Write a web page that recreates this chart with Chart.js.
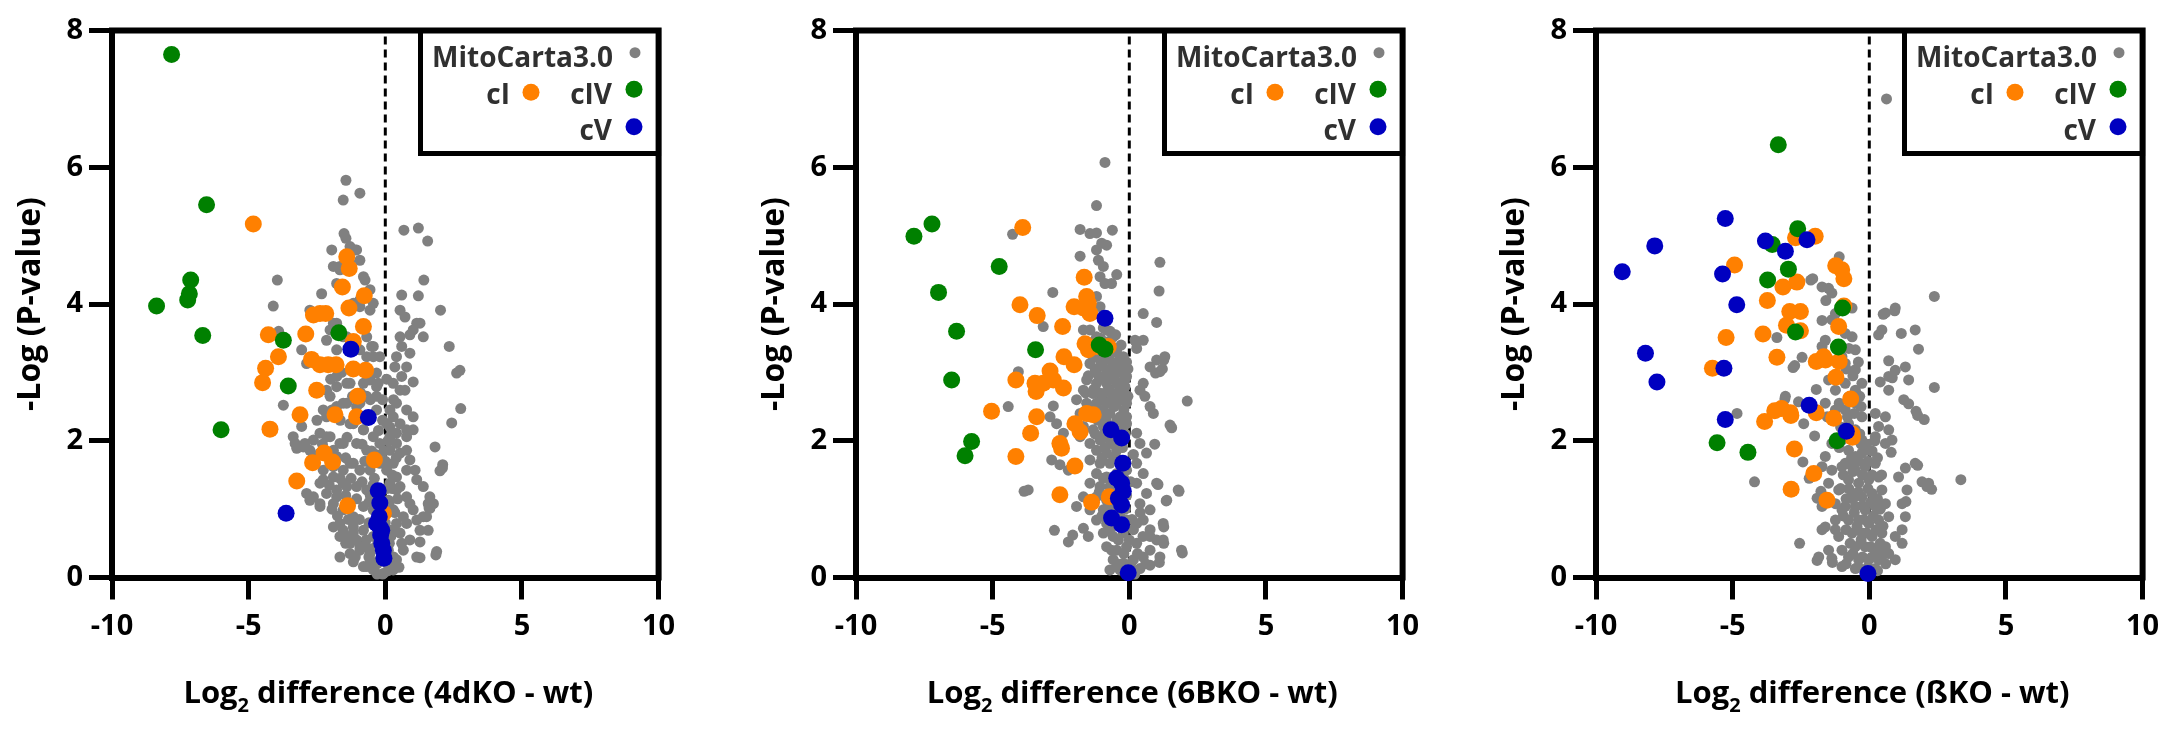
<!DOCTYPE html>
<html>
<head>
<meta charset="utf-8">
<script src="https://cdn.jsdelivr.net/npm/chart.js@4.4.1/dist/chart.umd.min.js"></script>
<style>
  html, body { margin: 0; padding: 0; background: #fff; }
  body { width: 2162px; height: 737px; position: relative; overflow: hidden; }
  canvas { position: absolute; top: 0; }
</style>
</head>
<body>
<canvas id="c1" width="700" height="737" style="left:0px"></canvas>
<canvas id="c2" width="700" height="737" style="left:740px"></canvas>
<canvas id="c3" width="682" height="737" style="left:1480px"></canvas>
<script>
// ---------------- axes ----------------
const X_TICKS = [-10, -5, 0, 5, 10];
const Y_TICKS = [0, 2, 4, 6, 8];
const ZERO_LINE = [[0, 0], [0, 8]];

// ---------------- panel 1 : 4dKO ----------------
const p1Gray = [
  [-1.44,5.81],[-0.93,5.62],[-1.54,5.52],[0.68,5.08],[1.21,5.11],[1.55,4.92],[-1.51,5.03],[-1.44,4.96],[-1.96,4.79],[-1.11,4.79],
  [-0.93,4.64],[-0.74,4.35],[1.41,4.35],[0.60,4.13],[1.21,4.12],[-0.56,3.91],[0.54,3.91],[0.72,3.81],[2.02,3.91],[1.15,3.72],
  [1.02,3.62],[0.90,3.55],[2.34,3.38],[-0.50,3.38],[-0.44,3.23],[0.60,3.38],[0.41,3.23],[0.35,3.08],[2.61,2.99],[2.73,3.03],
  [0.60,2.94],[1.02,2.86],[0.72,2.74],[-0.32,2.99],[-0.26,2.84],[-0.32,2.65],[0.41,2.55],[0.78,2.45],[1.02,2.35],[0.54,2.25],
  [2.76,2.47],[2.43,2.26],[0.17,2.20],[0.41,2.11],[0.78,2.16],[1.82,1.91],[2.10,1.65],[2.00,1.56],[0.41,1.96],[0.54,1.82],
  [0.78,1.86],[0.90,1.72],[1.09,1.57],[0.78,1.57],[0.29,1.67],[0.41,1.47],[0.54,1.33],[1.15,1.43],[1.39,1.33],[1.63,1.18],
  [1.76,1.08],[1.63,1.01],[1.51,0.89],[1.57,0.69],[1.27,0.52],[1.88,0.38],
  [-1.90,4.55],[-1.66,4.50],[-1.29,4.60],[-0.80,4.40],[-0.56,4.21],[-0.93,4.06],[-0.44,4.01],[-1.90,3.72],[-1.54,3.52],[-1.78,3.33],
  [-0.68,3.52],[-0.44,3.38],[-0.20,3.23],[-1.78,2.94],[-1.29,2.84],[-0.80,2.84],[-0.56,2.89],[-0.32,2.79],[-2.02,2.65],[-1.54,2.55],
  [-0.93,2.55],[-0.68,2.65],[-0.32,2.45],[-1.78,2.35],[-1.29,2.25],[-0.80,2.16],[-0.44,2.06],[-0.20,1.96],[-2.02,2.06],[-1.54,1.96],
  [-1.05,1.96],[-0.68,1.86],[-1.78,1.77],[-1.29,1.67],[-0.93,1.57],[-0.56,1.57],[-0.20,1.67],[-1.90,1.47],[-1.54,1.38],[-1.05,1.33],
  [-0.68,1.28],[-0.20,1.23],[-1.78,1.18],[-1.29,1.08],[-0.80,1.04],[-0.44,0.99],[-0.20,0.89],[-1.66,0.79],[-1.17,0.74],[-0.80,0.69],
  [-0.44,0.60],[-0.07,0.50],[-1.29,0.60],[-0.93,0.45],[-0.56,0.35],[-0.20,0.26],[-1.29,0.35],[-0.80,0.16],[-0.44,0.11],[-0.07,0.06],
  [0.29,0.11],
  [0.17,1.86],[0.05,1.57],[0.17,1.38],[0.11,1.13],[0.29,0.99],[0.41,0.79],[0.17,0.69],[0.66,0.89],[0.90,1.08],[0.41,1.28],
  [0.78,1.18],[1.02,0.99],[1.15,0.84],[0.78,0.79],[0.54,0.65],[0.90,0.55],[0.66,0.40],[0.41,0.26],[1.15,0.30],[0.23,0.16],
  [0.11,0.40],[0.05,0.21],[1.57,1.08],[1.39,0.89],[1.27,0.69],[0.29,2.35],[0.05,2.25],[0.17,2.06],[0.78,2.06],[1.02,2.16],
  [0.54,2.74],[0.17,2.45],[0.29,2.84],[0.78,3.08],[0.90,3.28],[0.54,3.52],[1.27,3.72],[1.39,3.52],
  [-3.95,4.35],[-4.10,3.97],[-2.33,4.15],[-2.76,3.91],[-3.06,3.33],[-2.15,3.47],[-3.73,2.52],[-3.06,2.21],[-3.30,1.96],[-2.94,1.96],
  [-2.63,2.01],[-2.39,2.11],[-2.15,2.06],[-3.24,1.89],[-2.76,1.86],[-2.39,1.82],[-1.90,1.86],[-1.66,1.96],[-2.27,1.57],[-1.90,1.62],
  [-1.54,1.57],[-1.17,1.67],[-2.27,1.43],[-2.15,1.23],[-1.78,1.28],[-1.41,1.33],[-2.76,1.13],[-2.39,1.08],[-2.88,1.23],[-1.90,1.08],
  [-1.54,0.99],[-1.17,0.89],[-1.90,0.74],[-1.54,0.69],[-1.17,0.65],[-1.66,0.60],[-1.29,0.50],[-0.93,0.40],[-2.15,2.74],[-1.78,2.79],
  [-1.41,2.84],[-2.88,3.13],[-2.39,3.08],[-2.27,2.45],[-2.15,2.35],[-1.41,2.55],[-1.78,2.50],[-1.17,2.25],[-0.80,2.16],[-2.02,3.62],
  [-1.78,3.72],[-0.93,3.33],[-0.68,3.23],[-1.41,3.52],[-1.17,4.01],[-0.93,3.96],[-1.78,4.30],[-1.54,4.25],[-1.66,4.55],[-1.05,4.79],
  [-1.29,4.84],[-3.00,1.91],[-2.63,1.77],[-3.37,2.06],[-2.39,1.38],[-2.63,1.18],[-2.39,1.04],[-1.66,0.30],[-1.17,0.23],[-0.68,0.16],
  [-3.90,3.60],
  [-0.10,0.05],[0.10,0.10],[-0.30,0.20],[0.30,0.30],[-0.05,0.45],[0.20,0.60],[-0.35,0.75],[0.35,0.95],[-0.25,1.10],[0.05,1.30],
  [-0.40,1.45],[0.25,1.50],[-0.15,1.70],[0.40,1.75],[-0.50,1.85],[0.10,2.00],[-0.60,0.30],[0.50,0.15],[0.60,0.50],[-0.70,0.55],
  [0.45,1.15],[-0.55,1.20],[0.00,0.80],[0.15,1.10],[1.85,0.33],[1.27,0.29],[1.60,1.02],[2.09,1.60],
  [-2.00,2.90],[-1.60,3.00],[-1.20,2.65],[-0.90,2.70],[-0.55,2.60],[-1.95,2.45],[-1.65,2.30],[-1.05,2.50],[-0.60,2.35],[-0.10,2.30],
  [-2.50,2.30],[-2.30,1.95],[-1.40,2.05],[-0.85,1.95],[-0.35,1.80],[-2.00,1.70],[-1.45,1.75],[-0.75,1.70],[-0.05,1.85],[-2.05,1.35],
  [-1.65,1.45],[-1.25,1.45],[-0.85,1.40],[-0.45,1.35],[-1.95,1.00],[-1.45,1.20],[-1.05,1.15],[-0.60,1.10],[-0.30,1.25],[-1.75,0.90],
  [-1.35,0.85],[-0.95,0.85],[-0.60,0.80],[-1.45,0.50],[-1.05,0.55],[-0.70,0.45],[-0.35,0.45],[-1.10,0.30],[-0.55,0.25],[-0.30,0.05],
  [0.00,0.30],[0.15,0.50],[0.30,0.70],[0.00,1.05],[0.25,1.30],[0.00,1.70],[-0.25,2.15],[0.30,2.60],[-0.10,2.60],[0.05,2.90]
];
const p1CI = [
  [-4.83,5.17],[-1.41,4.69],[-1.32,4.52],[-1.57,4.25],[-0.77,4.12],[-1.33,3.94],[-0.80,3.67],[-2.63,3.84],[-2.39,3.86],[-2.18,3.86],
  [-4.28,3.55],[-2.91,3.56],[-3.91,3.23],[-4.38,3.06],[-4.49,2.85],[-2.70,3.19],[-2.39,3.11],[-2.09,3.11],[-1.80,3.11],[-1.17,3.05],
  [-0.72,3.03],[-2.51,2.74],[-1.01,2.65],[-3.12,2.38],[-1.84,2.38],[-1.05,2.35],[-4.22,2.17],[-2.66,1.68],[-2.24,1.82],[-1.93,1.69],
  [-0.40,1.72],[-3.24,1.41],[-1.38,1.05],[-1.17,3.45],[-0.07,0.94]
];
const p1CIV = [
  [-7.82,7.65],[-6.54,5.45],[-7.12,4.35],[-7.17,4.15],[-7.23,4.06],[-8.37,3.97],[-6.68,3.54],[-3.73,3.47],[-1.70,3.58],[-3.55,2.80],
  [-6.01,2.16]
];
const p1CV = [
  [-1.26,3.34],[-0.62,2.34],[-3.63,0.94],[-0.26,1.27],[-0.20,1.09],[-0.22,0.89],[-0.32,0.79],[-0.20,0.74],[-0.13,0.69],[-0.17,0.62],
  [-0.13,0.50],[-0.07,0.40],[-0.05,0.28]
];

// ---------------- panel 2 : 6BKO ----------------
const p2Gray = [
  [-0.89,6.07],[-1.20,5.44],[-1.80,5.09],[-1.44,5.03],[-1.20,5.04],[-0.62,5.08],[-4.27,5.02],[-1.01,4.89],[-0.83,4.86],[-1.20,4.79],
  [-1.13,4.64],[-0.95,4.55],[-1.07,4.40],[-0.89,4.30],[-1.80,4.70],[-0.46,4.43],[-0.65,4.30],[1.12,4.61],[1.09,4.19],[-2.80,4.17],
  [0.51,3.86],[1.00,3.73],[-1.20,4.11],[-1.07,3.96],[-0.95,3.81],[-3.15,3.67],[-1.68,3.62],[0.21,3.47],[0.51,3.47],[0.27,3.35],
  [1.00,3.18],[1.30,3.23],[0.76,3.08],[1.12,3.01],[0.51,2.84],[0.39,2.74],[0.57,2.65],[2.12,2.58],[0.76,2.50],[0.88,2.40],
  [1.49,2.23],[-4.06,3.01],[-4.43,2.50],[-2.78,2.51],[-2.90,2.35],[-2.66,2.25],[-2.41,2.11],[-2.84,1.72],[-2.54,1.65],[-2.23,1.57],
  [-3.70,1.28],[-3.85,1.26],[-2.74,0.69],[-2.23,0.52],[-2.07,0.62],[-1.68,0.72],[-1.50,0.60],
  [-1.44,3.13],[-1.07,3.18],[-0.71,3.18],[-0.46,3.13],[-0.22,3.08],[-1.20,2.99],[-0.83,3.04],[-0.46,2.99],[-0.10,2.94],[-1.56,2.89],
  [-1.20,2.84],[-0.83,2.84],[-0.46,2.84],[-0.16,2.79],[-1.68,2.74],[-1.32,2.69],[-0.95,2.69],[-0.59,2.69],[-0.22,2.67],[-1.93,2.60],
  [-1.56,2.55],[-1.20,2.55],[-0.83,2.55],[-0.46,2.55],[-0.10,2.55],[-1.80,2.40],[-1.44,2.35],[-1.07,2.40],[-0.71,2.40],[-0.34,2.35],
  [-0.10,2.25],[-1.68,2.21],[-1.32,2.16],[-0.95,2.21],[-0.59,2.21],[-0.28,2.16],[-1.80,2.06],[-1.44,1.96],[-1.07,2.01],[-0.71,2.01],
  [-1.20,1.86],[-0.83,1.82],[-0.46,1.86],[-1.44,1.72],[-1.07,1.67],[-0.71,1.67],[-0.34,1.72],[-1.20,1.52],[-0.83,1.47],[-0.46,1.52],
  [-0.10,1.57],[-1.44,1.38],[-1.07,1.33],[-0.71,1.33],[-0.34,1.38],[-1.68,1.18],[-1.20,1.18],[-0.83,1.13],[-0.46,1.08],[-1.93,1.04],
  [-1.44,0.99],[-0.95,0.99],[-0.59,0.94],[-1.20,0.84],[-0.83,0.79],[-0.46,0.79],[-0.10,0.84],[-0.95,0.65],[-0.59,0.60],[-0.22,0.65],
  [0.15,0.70],[-0.83,0.45],[-0.46,0.40],[-0.10,0.45],[0.27,0.50],[-0.59,0.26],[-0.22,0.21],[0.15,0.26],[0.51,0.30],[-0.34,0.11],
  [0.02,0.09],[0.39,0.13],[0.76,0.18],[-0.71,0.11],
  [0.27,2.11],[0.39,1.96],[0.63,1.82],[0.27,1.67],[0.51,1.52],[0.27,1.38],[0.63,1.23],[0.39,1.08],[0.76,0.99],[0.51,0.84],
  [0.76,0.70],[1.00,0.55],[0.27,0.79],[0.76,0.40],[1.12,0.30],[1.00,1.38],[1.37,1.13],[1.79,1.28],[1.24,0.79],[1.24,0.55],
  [1.91,0.40],[0.76,0.60],
  [-1.44,3.62],[-1.20,3.52],[-0.83,3.62],[-0.59,3.52],[-0.95,3.28],[-0.46,3.33],[-0.22,3.23],[-1.32,3.23],
  [0.93,1.95],[1.05,1.36],[1.35,1.12],[1.82,1.26],[1.26,0.74],[1.26,0.50],[1.10,0.22],[1.94,0.36],[0.25,3.44],[1.26,3.18],
  [0.96,2.99],[1.21,3.05],[1.55,2.19],
  [-1.30,3.45],[-1.05,3.50],[-0.75,3.45],[-0.50,3.55],[-0.30,3.40],[-1.15,3.30],[-0.85,3.25],[-0.60,3.30],[-0.35,3.20],[-0.10,3.15],
  [-1.25,3.05],[-1.00,3.10],[-0.70,3.00],[-0.55,3.10],[-0.30,3.00],[-0.05,3.05],[-1.10,2.90],[-0.90,2.95],[-0.65,2.90],[-0.35,2.85],
  [-1.30,2.75],[-1.10,2.70],[-0.75,2.75],[-0.45,2.70],[-0.20,2.75],[-1.00,2.60],[-0.65,2.60],[-0.30,2.60],[-1.35,2.45],[-0.95,2.45],
  [-0.55,2.50],[-0.20,2.45],[-1.15,2.30],[-0.85,2.30],[-0.45,2.30],[-0.25,2.30],[-1.25,2.10],[-0.90,2.10],[-0.50,2.05],[-0.15,2.10],
  [-1.50,2.95],[-1.60,2.70],[-0.15,2.90],[-0.05,2.65],[-0.10,2.35],[-1.50,3.30],[-0.70,3.60],[-0.95,3.65],
  [-0.90,1.90],[-0.60,1.95],[-0.25,1.90],[-1.00,1.75],[-0.55,1.75],[-0.20,1.60],[-0.95,1.45],[-0.60,1.45],[-0.20,1.45],[-1.10,1.25],
  [-0.55,1.25],[-0.10,1.20],[-0.70,1.05],[-0.15,1.00],[-1.00,0.90],[-0.35,0.90],[-0.70,0.70],[-0.40,0.55],[0.00,0.55],[-0.65,0.40],
  [-0.20,0.35],[0.05,0.20],[0.30,0.35],[-0.10,0.10],[0.20,0.05],[-0.45,0.20],[0.10,0.85],[0.05,1.40],[0.15,1.80],[0.40,0.95],
  [0.50,0.60],[0.60,0.20]
];
const p2CI = [
  [-3.90,5.12],[-1.65,4.39],[-4.00,3.99],[-3.37,3.83],[-1.56,4.11],[-1.50,4.01],[-2.02,3.96],[-1.68,3.94],[-1.44,3.86],[-2.44,3.67],
  [-1.62,3.42],[-1.50,3.33],[-1.20,3.38],[-0.77,3.38],[-2.39,3.23],[-2.02,3.11],[-2.90,3.02],[-3.45,2.84],[-3.15,2.84],[-2.78,2.89],
  [-2.41,2.77],[-3.41,2.72],[-4.15,2.89],[-5.04,2.43],[-3.39,2.35],[-3.61,2.11],[-1.56,2.40],[-1.32,2.38],[-1.99,2.25],[-1.80,2.13],
  [-2.54,1.96],[-2.48,1.89],[-4.15,1.77],[-1.99,1.63],[-2.54,1.21],[-1.38,1.10],[-0.73,1.18]
];
const p2CIV = [
  [-7.88,4.99],[-7.22,5.17],[-4.76,4.55],[-6.98,4.17],[-6.32,3.60],[-6.50,2.89],[-5.77,1.99],[-6.01,1.78],[-3.43,3.33],[-1.10,3.40],
  [-0.89,3.34]
];
const p2CV = [
  [-0.89,3.79],[-0.67,2.16],[-0.28,2.04],[-0.24,1.67],[-0.46,1.45],[-0.28,1.38],[-0.22,1.26],[-0.40,1.16],[-0.28,1.06],[-0.65,0.87],
  [-0.28,0.77],[-0.04,0.07]
];

// ---------------- panel 3 : ßKO ----------------
const p3Gray = [
  [0.63,7.00],[-1.10,4.69],[-2.07,4.37],[-1.73,4.25],[-1.49,4.23],[-1.37,4.16],[-1.59,4.05],[2.38,4.11],[0.95,3.94],[0.59,3.87],
  [-0.63,3.94],[-1.24,3.86],[-1.37,3.77],[-1.73,3.76],[0.46,3.62],[0.34,3.55],[1.17,3.57],[1.68,3.62],[1.80,3.34],[-3.38,3.51],
  [-1.61,3.47],[-1.73,3.38],[-0.88,3.57],[-0.63,3.52],[-0.51,3.33],[-2.46,3.22],[-2.73,3.10],[0.71,3.17],[0.95,3.03],[1.32,3.08],
  [0.71,2.94],[0.40,2.86],[0.71,2.74],[1.26,2.60],[1.44,2.89],[2.38,2.78],[1.71,2.43],[2.01,2.31],[-3.07,2.65],[-2.59,2.57],
  [-4.84,2.40],[-2.40,2.25],[-2.00,2.07],[-0.88,2.84],[-0.76,2.64],[-0.88,2.45],[-0.76,2.25],[-1.49,2.89],[-1.24,2.74],[-1.61,2.55],
  [-1.24,2.45],[-1.54,2.35],[0.22,2.40],[0.59,2.35],[0.34,2.21],[0.71,2.16],[0.22,2.06],[0.59,1.96],[0.83,2.01],[0.80,1.83],
  [1.68,1.67],[1.93,1.40],[2.17,1.38],[1.32,1.60],[1.07,1.47],[1.38,1.28],[1.34,1.11],[3.35,1.43],[-4.20,1.40],[-2.43,1.69],
  [-2.20,1.45],[-1.61,1.77],[-1.73,1.62],[-1.37,1.57],[-1.49,1.38],[-1.91,1.16],[-1.73,1.04],[-1.24,1.08],[-1.00,0.99],[-1.24,0.84],
  [-1.61,0.74],[-1.73,0.70],[-1.12,0.60],[-2.55,0.50],[-1.85,0.30],[-1.49,0.40],[-1.37,0.28],[1.20,1.08],[1.32,0.89],[1.20,0.70],
  [0.95,0.60],[1.20,0.50],[0.71,0.35],[0.95,0.26],[0.46,0.40],
  [-0.76,1.86],[-0.51,1.77],[-0.27,1.82],[-0.02,1.86],[-0.88,1.67],[-0.51,1.57],[-0.15,1.62],[0.22,1.67],[-0.76,1.43],[-0.39,1.38],
  [-0.02,1.43],[0.34,1.47],[-0.63,1.23],[-0.27,1.18],[0.10,1.23],[0.46,1.28],[-0.88,1.04],[-0.51,1.04],[-0.15,0.99],[0.22,1.04],
  [0.59,1.08],[-0.76,0.84],[-0.39,0.84],[-0.02,0.79],[0.34,0.84],[0.71,0.89],[-0.63,0.65],[-0.27,0.65],[0.10,0.60],[0.46,0.65],
  [-0.51,0.45],[-0.15,0.45],[0.22,0.40],[0.59,0.45],[-0.76,0.30],[-0.39,0.26],[-0.02,0.26],[0.34,0.26],[-0.51,0.13],[-0.15,0.11],
  [0.22,0.13],[-1.00,0.16],[-1.12,1.28],[-1.00,1.62],[-1.24,0.70],[-1.00,0.40],
  [0.84,2.92],[1.44,2.54],[1.77,2.37],[1.77,1.64],[2.11,1.33],[2.28,1.29],[0.51,3.85],[0.93,3.90],
  [-2.79,3.07],[-3.09,2.61],[-1.91,0.25],[-1.35,0.22],[-1.77,1.26],[-1.60,1.12],[-1.94,2.75],[-2.14,4.35],
  [-0.88,3.13],[-0.51,3.04],[-1.00,3.23],[-0.27,2.84],[-0.51,2.55],[-0.27,2.35],[-0.51,2.16],[-0.27,2.01],[-1.00,2.01],[-1.37,1.96],
  [-0.51,2.74],
  [-0.90,2.15],[-0.60,2.05],[-0.35,2.10],[-0.10,1.95],[0.10,1.85],[-1.10,1.90],[-0.65,1.75],[-0.40,1.70],[-0.05,1.70],[0.30,1.75],
  [-0.95,1.50],[-0.60,1.55],[-0.25,1.50],[0.10,1.50],[0.45,1.50],[-1.05,1.30],[-0.75,1.30],[-0.40,1.25],[-0.05,1.30],[0.30,1.15],
  [-0.85,1.15],[-0.60,1.15],[-0.25,1.05],[0.05,1.10],[0.40,1.00],[-0.95,0.90],[-0.55,0.95],[-0.20,0.85],[0.15,0.90],[0.50,0.75],
  [-0.85,0.70],[-0.45,0.75],[-0.10,0.65],[0.25,0.70],[-0.70,0.50],[-0.30,0.55],[0.05,0.45],[0.40,0.50],[-0.60,0.35],[-0.25,0.30],
  [0.10,0.30],[0.45,0.30],[-0.40,0.15],[-0.05,0.15],[0.30,0.10],[-0.85,0.20],[0.60,0.20],[-0.70,1.65],[-0.30,1.95],[0.20,2.00],
  [-0.80,2.35],[-0.55,2.40],[-0.35,2.65],[-0.60,2.95],[-0.40,3.15],[-0.75,3.35],[-0.85,3.05],[-1.10,2.55],[-1.05,2.20],[-0.30,2.50]
];
const p3CI = [
  [-4.93,4.57],[-5.24,3.51],[-5.74,3.06],[-3.89,3.56],[-3.73,4.05],[-3.38,3.22],[-3.16,4.25],[-2.65,4.32],[-2.91,3.89],[-2.52,3.89],
  [-3.03,3.69],[-2.52,3.61],[-2.70,4.97],[-1.98,4.99],[-1.23,4.56],[-1.01,4.50],[-0.93,4.37],[-1.94,3.16],[-1.60,3.18],[-1.10,3.16],
  [-1.22,2.93],[-0.68,2.61],[-3.83,2.28],[-3.46,2.44],[-3.21,2.47],[-2.87,2.37],[-1.94,2.41],[-1.30,2.33],[-0.62,2.05],[-2.74,1.88],
  [-2.03,1.52],[-2.86,1.29],[-1.55,1.13],[-0.93,3.97],[-1.12,3.67],[-1.67,3.23],[-0.63,2.10],[-2.89,2.41]
];
const p3CIV = [
  [-3.33,6.33],[-2.62,5.10],[-3.55,4.87],[-2.96,4.51],[-3.72,4.35],[-0.98,3.94],[-2.70,3.59],[-1.13,3.37],[-1.18,2.00],[-5.57,1.97],
  [-4.44,1.83]
];
const p3CV = [
  [-9.04,4.47],[-7.85,4.85],[-5.27,5.25],[-5.37,4.44],[-4.85,3.99],[-8.19,3.28],[-7.77,2.86],[-5.32,3.06],[-5.27,2.31],[-3.80,4.92],
  [-3.07,4.77],[-2.28,4.94],[-2.20,2.52],[-0.84,2.14],[-0.05,0.06]
];

// ---------------- styles ----------------
const GRAY = '#808080', ORANGE = '#ff8000', GREEN = '#008000', BLUE = '#0000c0';
const FONT = '"Open Sans", Lato, sans-serif';

function dot(ctx, x, y, r, c) {
  ctx.beginPath();
  ctx.arc(x, y, r, 0, Math.PI * 2);
  ctx.fillStyle = c;
  ctx.fill();
}

// frame, legend box and axis titles
const decoPlugin = {
  id: 'deco',
  afterDraw(chart, args, opts) {
    const ctx = chart.ctx, a = chart.chartArea;
    ctx.save();
    ctx.strokeStyle = '#000';
    ctx.lineWidth = 6;
    ctx.lineCap = 'square';
    ctx.beginPath();
    ctx.moveTo(a.left, a.top);
    ctx.lineTo(a.right, a.top);
    ctx.lineTo(a.right, a.bottom);
    ctx.stroke();

    // legend
    const L = a.left + 308.5, T = a.top, R = a.right, B = a.top + 123;
    ctx.lineWidth = 5;
    ctx.lineCap = 'butt';
    ctx.strokeRect(L, T, R - L, B - T);
    ctx.font = 'bold 28px ' + FONT;
    ctx.fillStyle = '#303030';
    ctx.textAlign = 'right';
    ctx.textBaseline = 'alphabetic';
    ctx.fillText('MitoCarta3.0', R - 45.6, T + 36);
    ctx.fillText('cI', R - 148.6, T + 73);
    ctx.fillText('cIV', R - 46.6, T + 73);
    ctx.fillText('cV', R - 46.6, T + 109);
    dot(ctx, R - 23.6, T + 22.2, 5.5, GRAY);
    dot(ctx, R - 127.6, T + 61.8, 8.5, ORANGE);
    dot(ctx, R - 24.6, T + 58.8, 8.5, GREEN);
    dot(ctx, R - 24.6, T + 96.2, 8.5, BLUE);

    // x title with subscript
    ctx.fillStyle = '#000';
    ctx.textAlign = 'left';
    const big = 'bold 31px ' + FONT, small = 'bold 20px ' + FONT;
    const t1 = 'Log', t2 = '2', t3 = ' difference (' + opts.ko + ' - wt)';
    ctx.font = big;
    const w1 = ctx.measureText(t1).width, w3 = ctx.measureText(t3).width;
    ctx.font = small;
    const w2 = ctx.measureText(t2).width;
    let x = (a.left + a.right) / 2 + 3 - (w1 + w2 + w3) / 2;
    const yb = a.bottom + 125.5;
    ctx.font = big;
    ctx.fillText(t1, x, yb);
    x += w1;
    ctx.font = small;
    ctx.fillText(t2, x, yb + 9);
    x += w2;
    ctx.font = big;
    ctx.fillText(t3, x, yb);

    // y title
    ctx.translate(a.left - 81, (a.top + a.bottom) / 2);
    ctx.rotate(-Math.PI / 2);
    ctx.textAlign = 'center';
    ctx.textBaseline = 'middle';
    ctx.font = 'bold 32px ' + FONT;
    ctx.fillText('-Log (P-value)', 0, 0);
    ctx.restore();
  }
};

function volcano(id, ko, gray, cI, cIV, cV, yWidth, padRight) {
  const tickFont = { family: FONT, weight: 'bold', size: 29 };
  return new Chart(document.getElementById(id), {
    type: 'scatter',
    data: {
      datasets: [
        { label: 'cV', data: cV, backgroundColor: BLUE, pointRadius: 8.5, borderWidth: 0, order: 1, clip: false },
        { label: 'cIV', data: cIV, backgroundColor: GREEN, pointRadius: 8.5, borderWidth: 0, order: 2, clip: false },
        { label: 'cI', data: cI, backgroundColor: ORANGE, pointRadius: 8.5, borderWidth: 0, order: 3, clip: false },
        { label: 'MitoCarta3.0', data: gray, backgroundColor: GRAY, pointRadius: 5.5, borderWidth: 0, order: 4, clip: false },
        { label: 'zero', data: ZERO_LINE, showLine: true, borderColor: '#000', borderWidth: 3,
          borderDash: [8, 5], pointRadius: 0, order: 5 }
      ]
    },
    options: {
      responsive: false,
      animation: false,
      events: [],
      layout: { padding: { top: 30.5, right: padRight, bottom: 0, left: 0 } },
      plugins: { legend: { display: false }, tooltip: { enabled: false }, deco: { ko } },
      scales: {
        x: {
          type: 'linear', min: -10, max: 10,
          afterBuildTicks: s => { s.ticks = X_TICKS.map(v => ({ value: v })); },
          afterFit: s => { s.height = 159.5; s.paddingLeft = 0; s.paddingRight = 0; },
          ticks: { font: tickFont, color: '#000', padding: 10, maxRotation: 0, autoSkip: false },
          grid: { drawOnChartArea: false, drawTicks: true, tickLength: 22, lineWidth: 5, color: '#000' },
          border: { display: true, width: 6, color: '#000' }
        },
        y: {
          type: 'linear', min: 0, max: 8,
          afterBuildTicks: s => { s.ticks = Y_TICKS.map(v => ({ value: v })); },
          afterFit: s => { s.width = yWidth; s.paddingTop = 0; s.paddingBottom = 0; },
          ticks: { font: tickFont, color: '#000', padding: 6, autoSkip: false },
          grid: { drawOnChartArea: false, drawTicks: true, tickLength: 23, lineWidth: 5, color: '#000' },
          border: { display: true, width: 6, color: '#000' }
        }
      }
    },
    plugins: [decoPlugin]
  });
}

volcano('c1', '4dKO', p1Gray, p1CI, p1CIV, p1CV, 112, 41.4);
volcano('c2', '6BKO', p2Gray, p2CI, p2CIV, p2CV, 116, 37.4);
volcano('c3', 'ßKO', p3Gray, p3CI, p3CIV, p3CV, 116, 19.4);
</script>
</body>
</html>
